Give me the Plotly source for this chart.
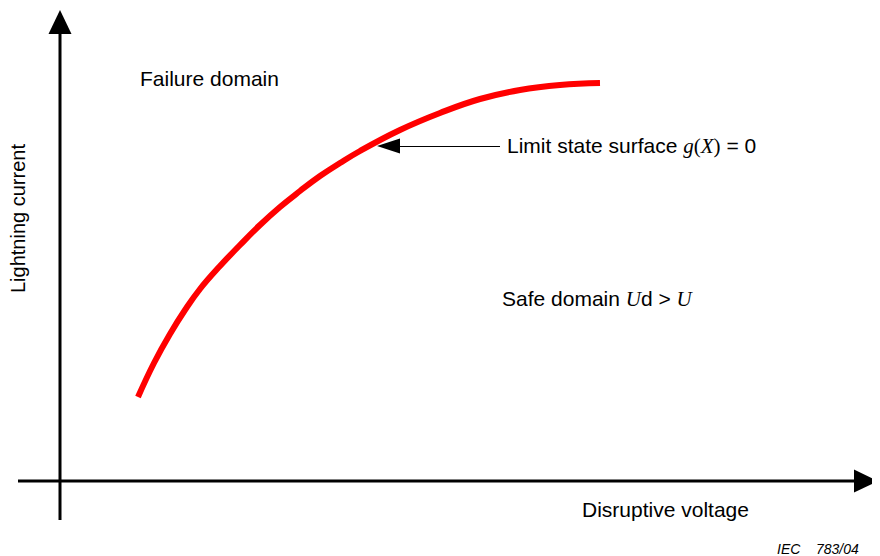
import plotly.graph_objects as go

# ---- data (curve of limit state surface, in chart units) ----
voltage = [78, 94, 110, 125, 140, 160, 180, 200, 220, 240, 260, 280, 300, 340, 380, 420, 460, 500, 540]
current = [84, 118, 147, 171, 192, 215, 236, 256, 274, 290, 305, 318, 330, 351, 368, 382, 391, 396, 398]

x_label = "Disruptive voltage"
y_label = "Lightning current"
failure_label = "Failure domain"
SERIF = "font-family:'Liberation Serif','Times New Roman',serif"
limit_label = f'Limit state surface <span style="{SERIF}"><i>g</i>(<i>X</i>)</span> = 0'
safe_label = f'Safe domain <span style="{SERIF}"><i>U</i></span>d &gt; <span style="{SERIF}"><i>U</i></span>'
ref_label = "IEC&nbsp;&nbsp;&nbsp;&nbsp;783/04"

# ---- axes layout (1 chart unit = 1 px; page has an 8px body margin) ----
PAGE_OFFSET = 8
X_MIN, X_MAX = -60 + PAGE_OFFSET, 820 + PAGE_OFFSET
Y_MIN, Y_MAX = -75 - PAGE_OFFSET, 481 - PAGE_OFFSET
X_AXIS_START, X_AXIS_TIP = -42, 818
Y_AXIS_START, Y_AXIS_TIP = -39, 471
HEAD_LEN, HEAD_HALF = 24, 11.5
LIMIT_Y = 335
LIMIT_TEXT_X = 445
LIMIT_TIP_X = 317
SMALL_HEAD_LEN, SMALL_HEAD_HALF = 23, 7.5

FONT = "Liberation Sans, Arial, sans-serif"

fig = go.Figure()
fig.add_trace(go.Scatter(x=voltage, y=current, mode="lines",
                         line=dict(color="#ff0000", width=6, shape="spline", smoothing=1.3),
                         hoverinfo="skip", showlegend=False))

shapes = []
# y axis
shapes.append(dict(type="line", x0=0, x1=0, y0=Y_AXIS_START, y1=Y_AXIS_TIP - HEAD_LEN + 2,
                   line=dict(color="black", width=3)))
shapes.append(dict(type="path",
                   path=f"M {-HEAD_HALF},{Y_AXIS_TIP-HEAD_LEN} L {HEAD_HALF},{Y_AXIS_TIP-HEAD_LEN} L 0,{Y_AXIS_TIP} Z",
                   fillcolor="black", line=dict(width=0)))
# x axis
shapes.append(dict(type="line", x0=X_AXIS_START, x1=X_AXIS_TIP - HEAD_LEN + 2, y0=0, y1=0,
                   line=dict(color="black", width=3)))
shapes.append(dict(type="path",
                   path=f"M {X_AXIS_TIP-HEAD_LEN},{-HEAD_HALF} L {X_AXIS_TIP-HEAD_LEN},{HEAD_HALF} L {X_AXIS_TIP},0 Z",
                   fillcolor="black", line=dict(width=0)))
# pointer arrow to the curve
shapes.append(dict(type="line", x0=LIMIT_TEXT_X - 5, x1=LIMIT_TIP_X + SMALL_HEAD_LEN - 1,
                   y0=LIMIT_Y - 0.5, y1=LIMIT_Y - 0.5, line=dict(color="black", width=1)))
shapes.append(dict(type="path",
                   path=f"M {LIMIT_TIP_X+SMALL_HEAD_LEN},{LIMIT_Y-SMALL_HEAD_HALF} L {LIMIT_TIP_X+SMALL_HEAD_LEN},{LIMIT_Y+SMALL_HEAD_HALF} L {LIMIT_TIP_X},{LIMIT_Y} Z",
                   fillcolor="black", line=dict(width=0)))

annotations = [
    dict(x=78, y=403, text=failure_label, xanchor="left", yanchor="middle"),
    dict(x=LIMIT_TEXT_X, y=LIMIT_Y, text=limit_label, xanchor="left", yanchor="middle"),
    dict(x=440, y=182, text=safe_label, xanchor="left", yanchor="middle"),
    dict(x=520, y=-28, text=x_label, xanchor="left", yanchor="middle"),
    dict(x=-42, y=262, text=y_label, textangle=-90, xanchor="center", yanchor="middle",
         font=dict(size=20, family=FONT, color="black")),
    dict(x=801, y=-68, text=f"<i>{ref_label}</i>", xanchor="right", yanchor="middle",
         font=dict(size=14, family=FONT, color="black")),
]
for a in annotations:
    a.setdefault("font", dict(size=21, family=FONT, color="black"))
    a["showarrow"] = False
    a["xref"] = "x"
    a["yref"] = "y"

fig.update_layout(
    width=880, height=556,
    margin=dict(l=0, r=0, t=0, b=0),
    paper_bgcolor="white", plot_bgcolor="white",
    xaxis=dict(range=[X_MIN, X_MAX], visible=False, fixedrange=True),
    yaxis=dict(range=[Y_MIN, Y_MAX], visible=False, fixedrange=True),
    shapes=shapes, annotations=annotations, showlegend=False,
)

fig.write_html("out.html")
